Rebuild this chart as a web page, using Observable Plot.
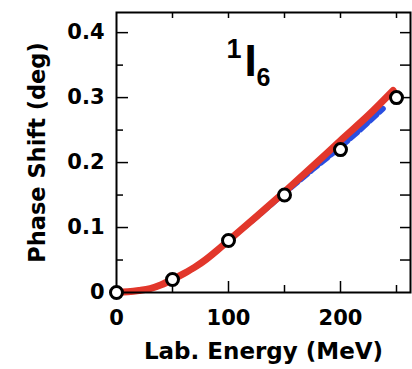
<!DOCTYPE html>
<html><head><meta charset="utf-8">
<script src="https://cdn.jsdelivr.net/npm/d3@7"></script>
<script src="https://cdn.jsdelivr.net/npm/@observablehq/plot@0.6"></script>
<style>body{margin:0;background:#fff}</style>
</head><body><div id="chart"></div>
<script>
// Data points (circles)
const dataEnergy = [0, 50, 100, 150, 200, 250];
const dataPhase = [0, 0.02, 0.08, 0.15, 0.22, 0.30];
// Red solid curve
const redEnergy = [0, 10, 20, 30, 40, 50, 60, 70, 80, 90, 100, 125, 150, 175, 200, 225, 247];
const redPhase = [0, 0.001, 0.003, 0.006, 0.012, 0.02, 0.029, 0.039, 0.051, 0.065, 0.08, 0.117, 0.155, 0.194, 0.234, 0.273, 0.311];
// Blue dashed curve
const blueEnergy = [0, 10, 20, 30, 40, 50, 60, 70, 80, 90, 100, 125, 150, 175, 200, 225, 238];
const bluePhase = [0, 0.001, 0.003, 0.006, 0.012, 0.02, 0.029, 0.039, 0.051, 0.065, 0.08, 0.116, 0.153, 0.189, 0.224, 0.262, 0.283];
// Ticks
const xTickLabels = [0, 100, 200];
const xMajorTicks = [100, 200];
const xMinorTicks = [50, 150, 250];
const xTopTicks = [50, 100, 150, 200, 250];
const yTickLabels = [0, 0.1, 0.2, 0.3, 0.4];
const yMinorTicks = [0.05, 0.15, 0.25, 0.35];
const yRightTicks = [0.05, 0.1, 0.15, 0.2, 0.25, 0.3, 0.35, 0.4];
const xLabel = "Lab. Energy (MeV)";
const yLabel = "Phase Shift (deg)";

const points = dataEnergy.map((e, i) => ({e, p: dataPhase[i]}));
const red = redEnergy.map((e, i) => ({e, p: redPhase[i]}));
const blue = blueEnergy.map((e, i) => ({e, p: bluePhase[i]}));

const W = 412, H = 369, mL = 116, mT = 12, mR = 2, mB = 77;
const fw = W - mL - mR, fh = H - mT - mB;
const font = "DejaVu Sans";

const plot = Plot.plot({
  width: W, height: H,
  marginLeft: mL, marginTop: mT, marginRight: mR, marginBottom: mB,
  style: {fontFamily: font, fontWeight: "bold", fontSize: "21px", background: "#fff", color: "#000"},
  x: {domain: [0, 262.5]},
  y: {domain: [0, 0.431]},
  marks: [
    Plot.axisX({ticks: xTickLabels, tickSize: 0, tickPadding: 18, label: null, fontSize: 21}),
    Plot.axisY({ticks: yTickLabels, tickSize: 0, tickPadding: 12, label: null, fontSize: 21, tickFormat: d => String(d)}),
    Plot.line(blue, {x: "e", y: "p", stroke: "#2a4ee0", strokeWidth: 5.5, strokeDasharray: "9,4", curve: "monotone-x"}),
    Plot.line(red, {x: "e", y: "p", stroke: "#e2372b", strokeWidth: 7, curve: "monotone-x"}),
    Plot.tickX(xMajorTicks, {x: d => d, insetTop: fh - 11, stroke: "#000", strokeWidth: 1.5}),
    Plot.tickX(xMinorTicks, {x: d => d, insetTop: fh - 7, stroke: "#000", strokeWidth: 1.5}),
    Plot.tickX(xTopTicks, {x: d => d, insetBottom: fh - 6, stroke: "#000", strokeWidth: 1.5}),
    Plot.tickY(yTickLabels.slice(1), {y: d => d, insetRight: fw - 12, stroke: "#000", strokeWidth: 1.5}),
    Plot.tickY(yMinorTicks, {y: d => d, insetRight: fw - 7, stroke: "#000", strokeWidth: 1.5}),
    Plot.tickY(yRightTicks, {y: d => d, insetLeft: fw - 10, stroke: "#000", strokeWidth: 1.5}),
    Plot.frame({stroke: "#000", strokeWidth: 2}),
    Plot.dot(points, {x: "e", y: "p", r: 6, stroke: "#000", strokeWidth: 3, fill: "#fff"}),
    Plot.text([xLabel], {frameAnchor: "bottom", textAnchor: "middle", lineAnchor: "bottom", dy: 66, fontSize: 23, fontWeight: "bold", fill: "#000"}),
    Plot.text([yLabel], {frameAnchor: "left", textAnchor: "middle", rotate: -90, lineAnchor: "middle", dx: -79, fontSize: 22.5, fontWeight: "bold", fill: "#000"}),
    Plot.text(["1"], {frameAnchor: "top-left", textAnchor: "start", lineAnchor: "bottom", dx: 110, dy: 45, fontSize: 27, fontFamily: "Liberation Sans", fontWeight: "bold", fill: "#000"}),
    Plot.text(["I"], {frameAnchor: "top-left", textAnchor: "start", lineAnchor: "bottom", dx: 128, dy: 63, fontSize: 44, fontFamily: "Liberation Sans", fontWeight: "bold", fill: "#000"}),
    Plot.text(["6"], {frameAnchor: "top-left", textAnchor: "start", lineAnchor: "bottom", dx: 140, dy: 73, fontSize: 25, fontFamily: "Liberation Sans", fontWeight: "bold", fill: "#000"})
  ]
});
document.getElementById("chart").appendChild(plot);
</script>
</body></html>
